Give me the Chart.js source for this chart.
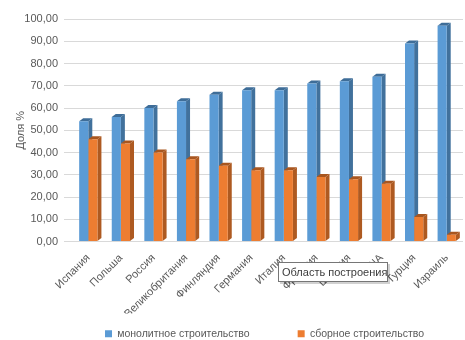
<!DOCTYPE html>
<html>
<head>
<meta charset="utf-8">
<script src="https://cdn.jsdelivr.net/npm/chart.js@4/dist/chart.umd.min.js"></script>
<style>
  html, body { margin: 0; padding: 0; background: #fff; }
  #wrap { width: 465px; height: 340px; }
</style>
</head>
<body>
<div id="wrap"><canvas id="shareChart"></canvas></div>
<script>
const countries = ['Испания', 'Польша', 'Россия', 'Великобритания', 'Финляндия', 'Германия',
                   'Италия', 'Франция', 'Швеция', 'США', 'Турция', 'Израиль'];
const monolith = [54, 56, 60, 63, 66, 68, 68, 71, 72, 74, 89, 97];
const prefab   = [46, 44, 40, 37, 34, 32, 32, 29, 28, 26, 11, 3];
const yTicks = [0, 10, 20, 30, 40, 50, 60, 70, 80, 90, 100];

const textColor = '#595959';
const font = 'Liberation Sans, Arial, sans-serif';

// side and top faces so the columns look like the excel 3d ones
const columns3d = {
  id: 'columns3d',
  beforeDatasetsDraw(chart) {
    const ctx = chart.ctx;
    const d = 4, dy = 3;
    chart.data.datasets.forEach((ds, i) => {
      chart.getDatasetMeta(i).data.forEach(bar => {
        const l = bar.x - bar.width / 2, r = bar.x + bar.width / 2;
        ctx.save();
        ctx.fillStyle = ds.sideColor;
        ctx.beginPath();
        ctx.moveTo(r, bar.y);
        ctx.lineTo(r + d, bar.y - dy);
        ctx.lineTo(r + d, bar.base - dy);
        ctx.lineTo(r, bar.base);
        ctx.closePath();
        ctx.fill();
        ctx.fillStyle = ds.topColor;
        ctx.beginPath();
        ctx.moveTo(l, bar.y);
        ctx.lineTo(l + d, bar.y - dy);
        ctx.lineTo(r + d, bar.y - dy);
        ctx.lineTo(r, bar.y);
        ctx.closePath();
        ctx.fill();
        ctx.restore();
      });
    });
  }
};

// excel puts the legend a bit lower and right of centre
const legendShift = {
  id: 'legendShift',
  afterLayout(chart) {
    const lg = chart.legend;
    lg.left += 26; lg.right += 26;
    lg.top += 9; lg.bottom += 9;
  }
};

// the "Область построения" hint box that shows in the picture
const hintBox = {
  id: 'hintBox',
  afterDraw(chart) {
    const ctx = chart.ctx;
    const x = 278, y = 262, w = 110, h = 20;
    ctx.save();
    ctx.fillStyle = 'rgba(0,0,0,0.18)';
    ctx.fillRect(x + 2, y + 2, w, h);
    ctx.fillStyle = '#fff';
    ctx.fillRect(x, y, w, h);
    ctx.strokeStyle = '#767676';
    ctx.lineWidth = 1;
    ctx.strokeRect(x + 0.5, y + 0.5, w - 1, h - 1);
    ctx.fillStyle = '#3c3c3c';
    ctx.font = '11px ' + font;
    ctx.textBaseline = 'middle';
    ctx.fillText('Область построения', x + 4, y + h / 2 + 1);
    ctx.restore();
  }
};

const data = {
  labels: countries,
  datasets: [{
    label: 'монолитное строительство',
    data: monolith,
    backgroundColor: '#5B9BD5',
    sideColor: '#41719C',
    topColor: '#3E6D98'
  }, {
    label: 'сборное строительство',
    data: prefab,
    backgroundColor: '#ED7D31',
    sideColor: '#AE5A21',
    topColor: '#A8561F'
  }]
};

const config = {
  type: 'bar',
  data,
  options: {
    responsive: true,
    maintainAspectRatio: false,
    animation: false,
    datasets: { bar: { categoryPercentage: 0.56, barPercentage: 1.0 } },
    layout: { padding: { top: 19, left: 14, right: 2, bottom: 0 } },
    scales: {
      x: {
        grid: { display: false },
        border: { display: false },
        afterFit: scale => { scale.height = 72; },
        ticks: {
          color: textColor,
          font: { family: font, size: 11 },
          maxRotation: 45,
          minRotation: 45,
          autoSkip: false,
          padding: 2
        }
      },
      y: {
        min: 0,
        max: 100,
        afterBuildTicks: scale => { scale.ticks = yTicks.map(v => ({ value: v })); },
        afterFit: scale => { scale.width = 58; },
        border: { display: false },
        grid: { color: '#d9d9d9', tickLength: 8, tickColor: '#d9d9d9' },
        ticks: {
          color: textColor,
          font: { family: font, size: 11 },
          padding: 6,
          callback: v => v.toFixed(2).replace('.', ',')
        },
        title: {
          display: true,
          text: 'Доля %',
          color: textColor,
          font: { family: font, size: 11 },
          padding: { top: 0, bottom: 2 }
        }
      }
    },
    plugins: {
      tooltip: { enabled: false },
      legend: {
        position: 'bottom',
        labels: {
          color: textColor,
          font: { family: font, size: 10.5 },
          boxWidth: 7,
          boxHeight: 7,
          padding: 6,
          // wide gap between the two items, as in the excel legend
          generateLabels: chart => {
            const items = Chart.defaults.plugins.legend.labels.generateLabels(chart);
            items[0].text += '\u2003\u2003\u2003\u2003';
            return items;
          }
        }
      }
    }
  },
  plugins: [columns3d, legendShift, hintBox]
};

new Chart(document.getElementById('shareChart'), config);
</script>
</body>
</html>
